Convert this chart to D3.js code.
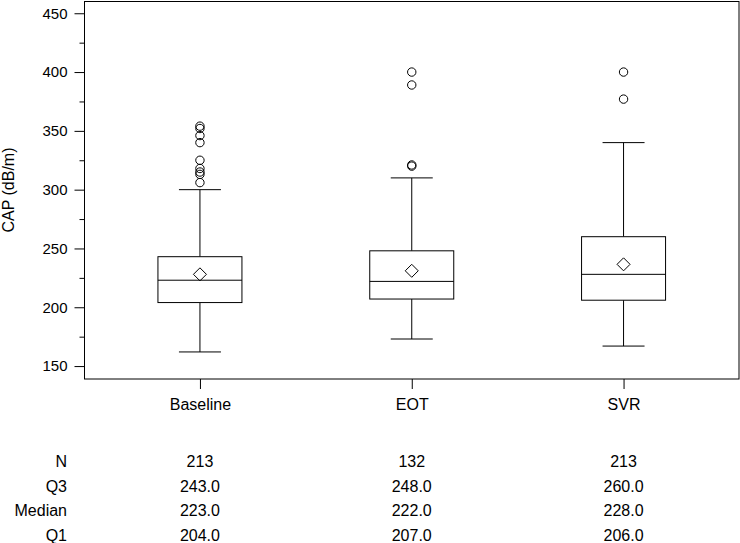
<!DOCTYPE html>
<html>
<head>
<meta charset="utf-8">
<script src="https://cdn.jsdelivr.net/npm/d3@7"></script>
<style>
  body { margin: 0; background: #fff; }
  svg { display: block; font-family: "Liberation Sans", Arial, sans-serif; }
  .axis path, .axis line { stroke: #000; }
  .axis text { font-size: 15px; fill: #000; }
</style>
</head>
<body>
<div id="drawingArea"></div>
<script>
// categories and summary stats
var groups = ["Baseline", "EOT", "SVR"];
var counts = [213, 132, 213];
var q1 = [204, 207, 206];
var median = [223, 222, 228];
var q3 = [243, 248, 260];
var means = [228, 231, 236.5];
var whiskerLow = [162, 173, 167];
var whiskerHigh = [300, 310, 340];
var outliers = [
    [306, 313, 315, 318, 325, 340, 346, 352, 354],
    [320, 321, 389, 400],
    [377, 400]
];
var yTicks = [150, 200, 250, 300, 350, 400, 450];
var yMinorTicks = [175, 225, 275, 325, 375, 425];
var rowLabels = ["N", "Q3", "Median", "Q1"];

var width = 740, height = 543;
var plot = {left: 84.5, right: 739, top: 1.5, bottom: 379};

var svg = d3.select("#drawingArea").append("svg")
    .attr("width", width)
    .attr("height", height);

// scales
var x = d3.scalePoint()
    .domain(groups)
    .range([plot.left, plot.right])
    .padding(0.545);

var y = d3.scaleLinear()
    .domain([139, 460])
    .range([plot.bottom, plot.top]);

var boxW = 84, capW = 42;

// frame
svg.append("rect")
    .attr("x", plot.left)
    .attr("y", plot.top)
    .attr("width", plot.right - plot.left)
    .attr("height", plot.bottom - plot.top)
    .attr("fill", "none")
    .attr("stroke", "#000");

// y axis, major + minor ticks
svg.append("g")
    .attr("class", "axis")
    .attr("transform", "translate(" + plot.left + ",0)")
    .call(d3.axisLeft(y).tickValues(yTicks).tickSize(10).tickPadding(7))
    .call(function(g) { g.select(".domain").remove(); });

svg.append("g")
    .attr("class", "axis")
    .attr("transform", "translate(" + plot.left + ",0)")
    .call(d3.axisLeft(y).tickValues(yMinorTicks).tickSize(5).tickFormat(""))
    .call(function(g) { g.select(".domain").remove(); });

// x axis
svg.append("g")
    .attr("class", "axis")
    .attr("transform", "translate(0," + plot.bottom + ")")
    .call(d3.axisBottom(x).tickSize(10).tickPadding(10))
    .call(function(g) {
        g.select(".domain").remove();
        g.selectAll("text").style("font-size", "16px");
    });

// y label
svg.append("text")
    .attr("transform", "translate(14,190) rotate(-90)")
    .style("text-anchor", "middle")
    .style("font-size", "16px")
    .text("CAP (dB/m)");

// boxes
var data = groups.map(function(g, i) {
    return {name: g, q1: q1[i], med: median[i], q3: q3[i], mean: means[i],
            lo: whiskerLow[i], hi: whiskerHigh[i], out: outliers[i]};
});

var box = svg.selectAll(".box")
    .data(data)
    .enter().append("g")
    .attr("class", "box")
    .attr("stroke", "#000")
    .attr("fill", "none");

// whiskers
box.append("line")
    .attr("x1", function(d) { return x(d.name); })
    .attr("x2", function(d) { return x(d.name); })
    .attr("y1", function(d) { return y(d.hi); })
    .attr("y2", function(d) { return y(d.q3); });
box.append("line")
    .attr("x1", function(d) { return x(d.name); })
    .attr("x2", function(d) { return x(d.name); })
    .attr("y1", function(d) { return y(d.q1); })
    .attr("y2", function(d) { return y(d.lo); });
// caps
box.append("line")
    .attr("x1", function(d) { return x(d.name) - capW / 2; })
    .attr("x2", function(d) { return x(d.name) + capW / 2; })
    .attr("y1", function(d) { return y(d.hi); })
    .attr("y2", function(d) { return y(d.hi); });
box.append("line")
    .attr("x1", function(d) { return x(d.name) - capW / 2; })
    .attr("x2", function(d) { return x(d.name) + capW / 2; })
    .attr("y1", function(d) { return y(d.lo); })
    .attr("y2", function(d) { return y(d.lo); });
// box
box.append("rect")
    .attr("x", function(d) { return x(d.name) - boxW / 2; })
    .attr("y", function(d) { return y(d.q3); })
    .attr("width", boxW)
    .attr("height", function(d) { return y(d.q1) - y(d.q3); })
    .attr("fill", "#fff");
// median
box.append("line")
    .attr("x1", function(d) { return x(d.name) - boxW / 2; })
    .attr("x2", function(d) { return x(d.name) + boxW / 2; })
    .attr("y1", function(d) { return y(d.med); })
    .attr("y2", function(d) { return y(d.med); });
// mean diamond
box.append("path")
    .attr("d", function(d) {
        var cx = x(d.name), cy = y(d.mean), r = 6.5;
        return "M" + cx + "," + (cy - r) + "L" + (cx + r) + "," + cy +
               "L" + cx + "," + (cy + r) + "L" + (cx - r) + "," + cy + "Z";
    });
// outliers
box.selectAll("circle")
    .data(function(d) { return d.out.map(function(v) { return {name: d.name, v: v}; }); })
    .enter().append("circle")
    .attr("cx", function(d) { return x(d.name); })
    .attr("cy", function(d) { return y(d.v); })
    .attr("r", 4.2);

// stats table
var rows = [
    counts.map(String),
    q3.map(function(v) { return v.toFixed(1); }),
    median.map(function(v) { return v.toFixed(1); }),
    q1.map(function(v) { return v.toFixed(1); })
];
var rowY = d3.scalePoint().domain(rowLabels).range([467, 541]);

rowLabels.forEach(function(lab, r) {
    svg.append("text")
        .attr("x", 67)
        .attr("y", rowY(lab))
        .style("text-anchor", "end")
        .style("font-size", "16px")
        .text(lab);
    groups.forEach(function(g, i) {
        svg.append("text")
            .attr("x", x(g))
            .attr("y", rowY(lab))
            .style("text-anchor", "middle")
            .style("font-size", "16px")
            .text(rows[r][i]);
    });
});
</script>
</body>
</html>
